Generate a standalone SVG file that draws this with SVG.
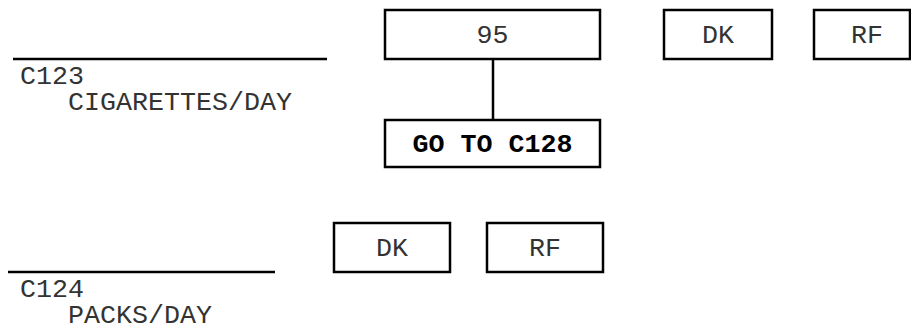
<svg xmlns="http://www.w3.org/2000/svg" width="911" height="328" viewBox="0 0 911 328">
<style>
.box{fill:#fff;stroke:#000;stroke-width:2.5}
.t{font-family:"Liberation Mono","Courier New",monospace;font-size:26.67px;fill:#333}
.c{text-anchor:middle}
.b{font-weight:bold;fill:#000}
.ln{stroke:#000;stroke-width:2.5;fill:none}
</style>
<rect width="911" height="328" fill="#fff"/>
<g id="connectors">
<line class="ln" x1="493" y1="59" x2="493" y2="120"/>
</g>
<g id="q123">
<line class="ln" x1="13" y1="59" x2="327" y2="59"/>
<text class="t" x="20" y="84">C123</text>
<text class="t" x="68" y="110">CIGARETTES/DAY</text>
</g>
<g id="opt95">
<rect class="box" x="385" y="10" width="215" height="49"/>
<text class="t c" x="492.5" y="43">95</text>
</g>
<g id="dk1">
<rect class="box" x="664" y="10" width="108" height="49"/>
<text class="t c" x="718" y="43">DK</text>
</g>
<g id="rf1">
<rect class="box" x="814" y="10" width="96" height="49"/>
<text class="t c" x="867" y="43">RF</text>
</g>
<g id="goto">
<rect class="box" x="385" y="120" width="215" height="47"/>
<text class="t c b" x="492.5" y="152">GO TO C128</text>
</g>
<g id="q124">
<line class="ln" x1="8" y1="272" x2="275" y2="272"/>
<text class="t" x="20" y="297">C124</text>
<text class="t" x="68" y="323">PACKS/DAY</text>
</g>
<g id="dk2">
<rect class="box" x="334" y="223" width="116" height="49"/>
<text class="t c" x="392" y="256">DK</text>
</g>
<g id="rf2">
<rect class="box" x="487" y="223" width="116" height="49"/>
<text class="t c" x="545" y="256">RF</text>
</g>
</svg>
